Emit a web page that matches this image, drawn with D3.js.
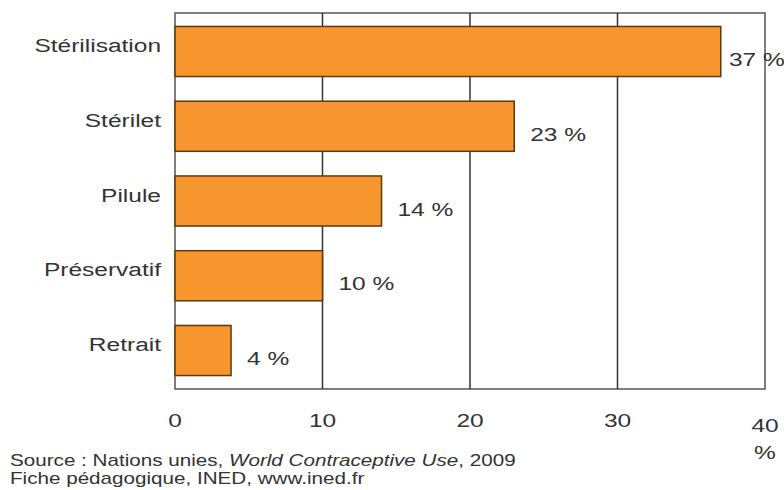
<!DOCTYPE html>
<html>
<head>
<meta charset="utf-8">
<script src="https://cdn.jsdelivr.net/npm/d3@7"></script>
<style>
  html, body { margin: 0; padding: 0; background: #fff; }
  svg { display: block; font-family: "Liberation Sans", Arial, sans-serif; }
</style>
</head>
<body>
<div id="chart"></div>
<script>
const methods = ["Stérilisation", "Stérilet", "Pilule", "Préservatif", "Retrait"];
const shares = [37, 23, 14, 10, 3.8];
const shareLabels = ["37 %", "23 %", "14 %", "10 %", "4 %"];
const xTicks = [0, 10, 20, 30, 40];
const sourceLines = [
  ["Source : Nations unies, ", "World Contraceptive Use", ", 2009"],
  ["Fiche pédagogique, INED, www.ined.fr", "", ""],
];

const width = 784;
const height = 490;
const margin = { top: 13, right: 19, bottom: 101, left: 175 };
const innerW = width - margin.left - margin.right;
const innerH = height - margin.top - margin.bottom;
const stretch = 1.29; // the source image is wider than tall

const data = methods.map((m, i) => ({ method: m, value: shares[i], label: shareLabels[i] }));

const svg = d3.select("#chart")
  .append("svg")
  .attr("width", width)
  .attr("height", height);

const g = svg.append("g").attr("transform", `translate(${margin.left},${margin.top})`);

const x = d3.scaleLinear().domain([0, 40]).range([0, innerW]);
const y = d3.scaleBand().domain(methods).range([0, innerH]).paddingInner(0.33).paddingOuter(0.18);

const at = (px, py) => `translate(${px},${py}) scale(${stretch},1)`;

// frame
g.append("rect")
  .attr("width", innerW)
  .attr("height", innerH)
  .attr("fill", "none")
  .attr("stroke", "#555")
  .attr("stroke-width", 1.5);

// vertical grid
g.selectAll(".grid")
  .data(xTicks.slice(1, -1))
  .join("line")
  .attr("x1", (d) => x(d))
  .attr("x2", (d) => x(d))
  .attr("y1", 0)
  .attr("y2", innerH)
  .attr("stroke", "#333")
  .attr("stroke-width", 1.5);

// bars
g.selectAll(".bar")
  .data(data)
  .join("rect")
  .attr("x", 0)
  .attr("y", (d) => y(d.method))
  .attr("width", (d) => x(d.value))
  .attr("height", y.bandwidth())
  .attr("fill", "#f7962e")
  .attr("stroke", "#5a3a10")
  .attr("stroke-width", 1.5);

// value labels
g.selectAll(".val")
  .data(data)
  .join("text")
  .attr("transform", (d) => at(Math.min(x(d.value) + 16, innerW - 36), y(d.method) + y.bandwidth() / 2 + 8))
  .attr("dy", "0.35em")
  .attr("fill", "#333")
  .attr("font-size", 19)
  .text((d) => d.label);

// category labels
g.selectAll(".cat")
  .data(data)
  .join("text")
  .attr("transform", (d) => at(-14, y(d.method) + y.bandwidth() / 2 - 6))
  .attr("dy", "0.35em")
  .attr("text-anchor", "end")
  .attr("fill", "#333")
  .attr("font-size", 19)
  .text((d) => d.method);

// x tick labels
g.selectAll(".tick")
  .data(xTicks)
  .join("text")
  .attr("transform", (d) => at(x(d), innerH + (d === 40 ? 36 : 31)))
  .attr("dy", "0.35em")
  .attr("text-anchor", "middle")
  .attr("fill", "#333")
  .attr("font-size", 19)
  .text((d) => d);

g.append("text")
  .attr("transform", at(x(40), innerH + 63))
  .attr("dy", "0.35em")
  .attr("text-anchor", "middle")
  .attr("fill", "#333")
  .attr("font-size", 19)
  .text("%");

// source
const src = svg.append("g").attr("fill", "#333").attr("font-size", 16);
sourceLines.forEach((parts, i) => {
  const t = src.append("text").attr("transform", at(10, 466 + i * 18));
  t.append("tspan").text(parts[0]);
  if (parts[1]) t.append("tspan").attr("font-style", "italic").text(parts[1]);
  if (parts[2]) t.append("tspan").text(parts[2]);
});
</script>
</body>
</html>
